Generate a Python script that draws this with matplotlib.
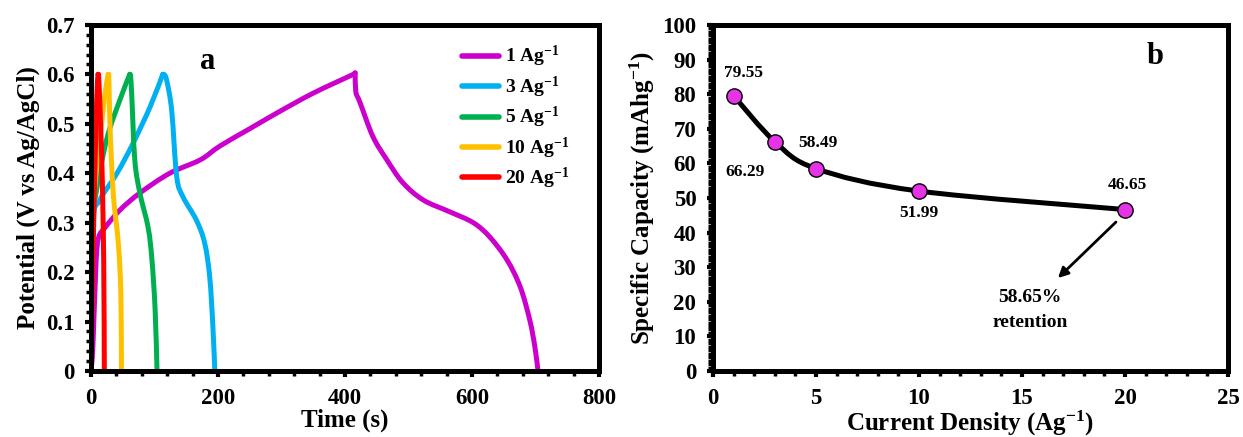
import matplotlib
matplotlib.use("Agg")
import matplotlib.pyplot as plt
import numpy as np
from matplotlib.path import Path
from matplotlib.patches import PathPatch
from matplotlib.lines import Line2D
from matplotlib.ticker import MultipleLocator, FuncFormatter

plt.rcParams['font.family'] = ['Liberation Serif', 'DejaVu Serif']
plt.rcParams['font.weight'] = 'bold'
plt.rcParams['mathtext.fontset'] = 'custom'
plt.rcParams['mathtext.rm'] = 'Liberation Serif:bold'
plt.rcParams['mathtext.it'] = 'Liberation Serif:bold'
plt.rcParams['mathtext.bf'] = 'Liberation Serif:bold'

# (a) GCD curves, time (s) and potential (V); peak index splits charge / discharge
t_1 = [0, 3, 8, 12, 22, 46, 77, 124, 172, 203, 250, 293, 350, 413, 416,
       417, 424, 444, 466, 491, 523, 565, 602, 628, 655, 676, 691, 699, 704]
v_1 = [0, 0.05, 0.22, 0.27, 0.29, 0.326, 0.36, 0.40, 0.427, 0.455, 0.49, 0.522, 0.562, 0.600, 0.603,
       0.565, 0.542, 0.474, 0.427, 0.381, 0.346, 0.322, 0.300, 0.271, 0.225, 0.170, 0.103, 0.049, 0]
t_3 = [0, 3, 14, 41, 66, 93, 113, 115, 119, 127, 135, 145, 166, 179, 187, 192, 195]
v_3 = [0, 0.30, 0.346, 0.40, 0.46, 0.534, 0.60, 0.60, 0.589, 0.528, 0.393, 0.352, 0.305, 0.259, 0.19, 0.089, 0]
t_5 = [0, 3, 8, 25, 46, 61, 62, 64, 69, 77, 90, 96, 101, 104]
v_5 = [0, 0.30, 0.36, 0.47, 0.55, 0.60, 0.60, 0.563, 0.427, 0.36, 0.29, 0.225, 0.124, 0]
t_10 = [0, 3, 8, 15, 22, 27, 28, 30, 35, 43, 47, 48]
v_10 = [0, 0.30, 0.40, 0.48, 0.56, 0.60, 0.60, 0.494, 0.36, 0.259, 0.158, 0]
t_20 = [0, 3, 6, 9, 11, 12, 17, 20, 21]
v_20 = [0, 0.22, 0.40, 0.55, 0.60, 0.60, 0.427, 0.225, 0]
peaks = [14, 6, 5, 5, 4]

colors = ['#cc00cc', '#00b0f0', '#00b050', '#ffc000', '#ff0000']
labels = ['1 Ag$^{-1}$', '3 Ag$^{-1}$', '5 Ag$^{-1}$', '10 Ag$^{-1}$', '20 Ag$^{-1}$']
series_t = [t_1, t_3, t_5, t_10, t_20]
series_v = [v_1, v_3, v_5, v_10, v_20]

# (b) rate capability
density = [1, 3, 5, 10, 20]
capacity = [79.55, 66.29, 58.49, 51.99, 46.65]
cap_labels = ['79.55', '66.29', '58.49', '51.99', '46.65']
label_pos = [(1.46, 86.1), (1.55, 57.5), (5.1, 65.9), (10.0, 45.7), (20.1, 53.8)]


def style_axes(ax):
    for s in ax.spines.values():
        s.set_linewidth(3.6)
    ax.tick_params(which='major', direction='out', length=4, width=3, labelsize=16.5, pad=8)
    ax.tick_params(which='minor', direction='out', length=3.5, width=2.5)
    for lab in ax.get_xticklabels() + ax.get_yticklabels():
        lab.set_fontweight('bold')


def smooth_path(xs, ys, sx=1.0, sy=1.0):
    # Catmull-Rom through the points (in scaled space), as cubic Bezier segments,
    # control points clamped to each segment's box so nothing overshoots
    pts = np.column_stack([np.asarray(xs, float) * sx, np.asarray(ys, float) * sy])
    verts = [pts[0]]
    codes = [Path.MOVETO]
    n = len(pts)
    for i in range(n - 1):
        p0 = pts[i - 1] if i > 0 else pts[i]
        p1 = pts[i]
        p2 = pts[i + 1]
        p3 = pts[i + 2] if i + 2 < n else pts[i + 1]
        lo, hi = np.minimum(p1, p2), np.maximum(p1, p2)
        c1 = np.clip(p1 + (p2 - p0) / 6.0, lo, hi)
        c2 = np.clip(p2 - (p3 - p1) / 6.0, lo, hi)
        verts += [c1, c2, p2]
        codes += [Path.CURVE4] * 3
    verts = np.array(verts) / [sx, sy]
    return Path(verts, codes)


fig = plt.figure(figsize=(12.43, 4.37), dpi=100)
ax1 = fig.add_axes([0.0732, 0.151, 0.4087, 0.792])
ax2 = fig.add_axes([0.5736, 0.151, 0.4143, 0.792])

handles = []
for t, v, pk, c, lab in zip(series_t, series_v, peaks, colors, labels):
    for seg in (slice(0, pk + 1), slice(pk, None)):
        ax1.add_patch(PathPatch(smooth_path(t[seg], v[seg], 1 / 800, 1 / 0.7), facecolor='none',
                                edgecolor=c, lw=3.6, joinstyle='round', capstyle='round',
                                transform=ax1.transData))
    handles.append(Line2D([], [], color=c, lw=4, solid_capstyle='round', label=lab))
ax1.set_xlim(0, 800)
ax1.set_ylim(0, 0.7)
ax1.xaxis.set_major_locator(MultipleLocator(200))
ax1.xaxis.set_minor_locator(MultipleLocator(40))
ax1.yaxis.set_major_locator(MultipleLocator(0.1))
ax1.yaxis.set_minor_locator(MultipleLocator(0.02))
ax1.yaxis.set_major_formatter(FuncFormatter(lambda v, p: '0' if abs(v) < 1e-9 else f'{v:.1f}'))
ax1.set_xlabel('Time (s)', fontsize=18, fontweight='bold', labelpad=0)
ax1.set_ylabel('Potential (V vs Ag/AgCl)', fontsize=18, fontweight='bold', labelpad=4)
style_axes(ax1)
ax1.legend(handles=handles, loc='upper right', bbox_to_anchor=(0.975, 0.995), frameon=False,
           fontsize=14, handlelength=1.9, labelspacing=0.27, handletextpad=0.3)
ax1.text(184, 0.625, 'a', fontsize=22, fontweight='bold', ha='center', va='center')

ax2.add_patch(PathPatch(smooth_path(density, capacity, 1 / 25, 1 / 100), facecolor='none',
                        edgecolor='black', lw=3.6, transform=ax2.transData, zorder=2))
ax2.plot(density, capacity, 'o', ms=11, mfc='#e633e6', mec='black', mew=1, zorder=3)
for lab, (lx, ly) in zip(cap_labels, label_pos):
    ax2.text(lx, ly, lab, fontsize=12.5, fontweight='bold', ha='center', va='center')
ax2.annotate('', xy=(16.65, 26.3), xytext=(19.66, 43.6),
             arrowprops=dict(arrowstyle='-|>', color='black', lw=2, mutation_scale=15))
ax2.text(15.4, 21.1, '58.65%', fontsize=14, fontweight='bold', ha='center', va='center')
ax2.text(15.4, 13.9, 'retention', fontsize=14, fontweight='bold', ha='center', va='center')
ax2.text(21.46, 90.8, 'b', fontsize=22, fontweight='bold', ha='center', va='center')
ax2.set_xlim(0, 25)
ax2.set_ylim(0, 100)
ax2.xaxis.set_major_locator(MultipleLocator(5))
ax2.xaxis.set_minor_locator(MultipleLocator(1))
ax2.yaxis.set_major_locator(MultipleLocator(10))
ax2.yaxis.set_minor_locator(MultipleLocator(1))
ax2.set_xlabel('Current Density (Ag$^{-1}$)', fontsize=18, fontweight='bold', labelpad=0)
ax2.set_ylabel('Specific Capacity (mAhg$^{-1}$)', fontsize=18, fontweight='bold', labelpad=4)
style_axes(ax2)

fig.savefig('out.png', dpi=100)
